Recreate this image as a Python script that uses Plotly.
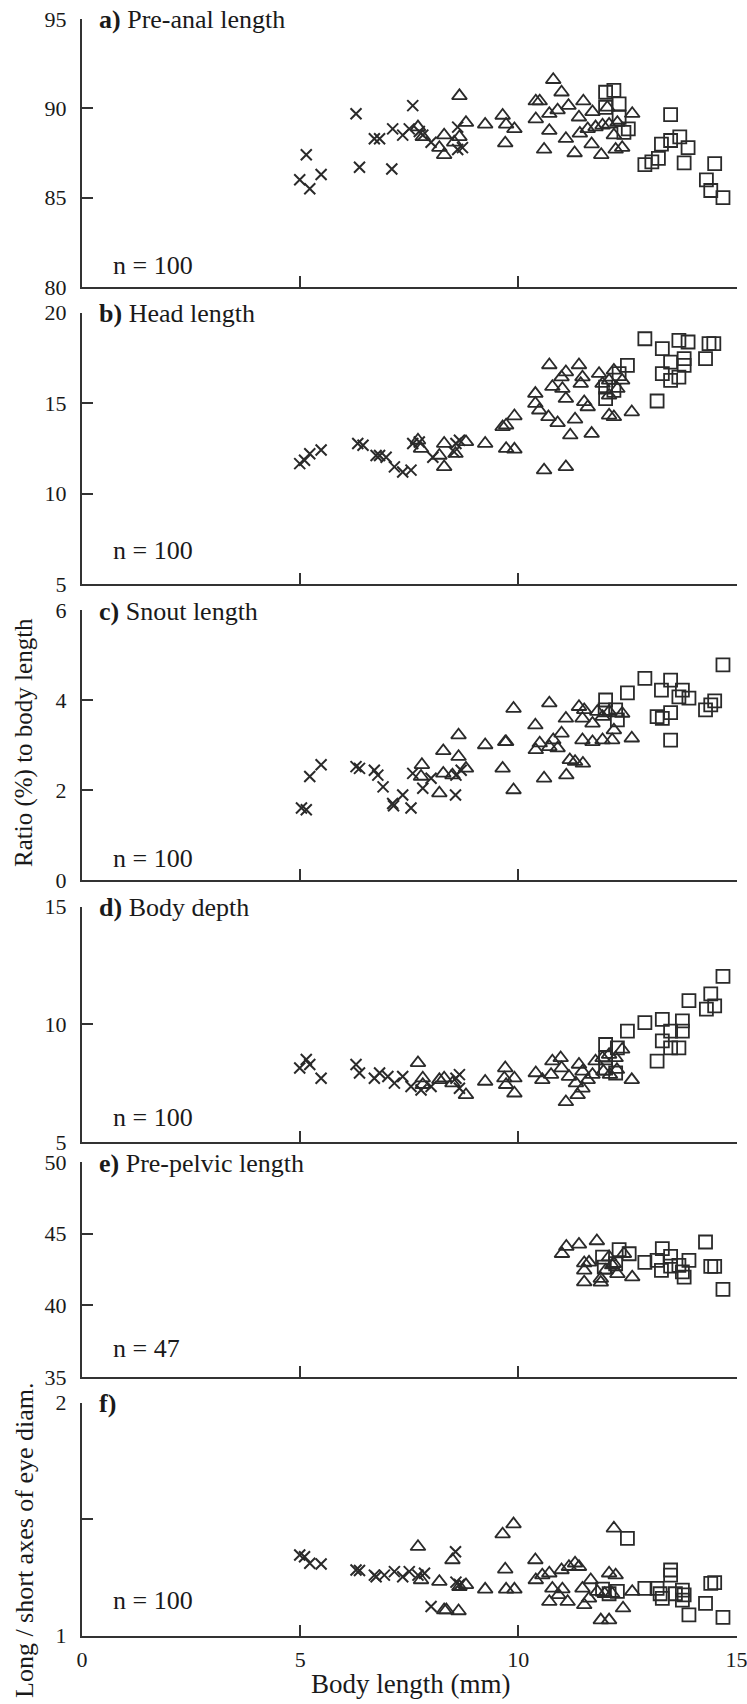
import plotly.graph_objects as go

# ---------------- data ----------------
# Panel a) Pre-anal length
a_x_x = [4.99, 5.14, 5.22, 5.48, 6.28, 6.36, 6.70, 6.82, 7.12, 7.35, 7.10, 7.58, 7.50, 7.73, 7.81, 8.00, 8.61, 8.61, 8.72]
a_x_y = [86.0, 87.4, 85.5, 86.3, 89.7, 86.7, 88.3, 88.3, 88.85, 88.5, 86.6, 90.15, 88.85, 88.7, 88.5, 88.1, 88.95, 87.7, 87.8]
a_t_x = [7.70, 7.81, 8.30, 8.19, 8.30, 8.53, 8.65, 8.80, 8.65, 9.24, 9.64, 9.72, 9.91, 9.70, 10.40, 10.49, 10.40, 10.71,
         10.71, 10.59, 10.80, 10.99, 10.90, 11.15, 11.09, 11.29, 11.49, 11.39, 11.41, 11.70, 11.68, 11.90, 12.04, 12.23,
         12.19, 12.61, 11.59, 11.77, 11.93, 12.08, 12.27, 12.38]
a_t_y = [88.95, 88.4, 88.5, 87.8, 87.4, 88.1, 90.7, 89.2, 88.4, 89.1, 89.6, 89.1, 88.85, 88.05, 90.4, 90.4, 89.4, 89.7,
         88.75, 87.7, 91.6, 90.9, 89.9, 90.15, 88.3, 87.5, 90.4, 89.5, 88.6, 89.8, 88.0, 87.4, 90.05, 87.7,
         88.5, 89.7, 88.85, 88.95, 89.05, 89.1, 89.2, 87.8]
a_s_x = [12.0, 12.19, 12.0, 12.31, 12.31, 12.52, 12.42, 13.49, 12.90, 13.21, 13.28, 13.49, 13.70, 13.89, 13.80, 14.50,
         14.31, 14.41, 14.69, 13.06]
a_s_y = [90.9, 91.0, 90.05, 90.25, 89.5, 88.85, 88.65, 89.65, 86.85, 87.2, 88.0, 88.2, 88.4, 87.8, 86.95, 86.9,
         86.0, 85.4, 85.0, 87.0]

# Panel b) Head length
b_x_x = [4.99, 5.10, 5.22, 5.48, 6.32, 6.44, 6.74, 6.82, 6.97, 7.16, 7.35, 7.54, 7.58, 7.73, 8.04, 8.57, 8.65, 8.53]
b_x_y = [11.65, 11.84, 12.2, 12.4, 12.76, 12.67, 12.1, 12.1, 12.0, 11.47, 11.19, 11.29, 12.76, 12.85, 12.0, 12.76, 12.94, 12.3]
b_t_x = [7.70, 7.77, 8.30, 8.19, 8.30, 8.56, 8.80, 9.24, 9.64, 9.72, 9.91, 9.72, 9.91, 10.39, 10.39, 10.48, 10.71, 10.78,
         10.69, 10.90, 10.59, 11.09, 10.99, 11.09, 11.09, 11.01, 11.19, 11.30, 11.39, 11.47, 11.43, 11.51, 11.59, 11.68,
         11.85, 11.93, 12.08, 12.19, 12.27, 12.08, 12.38, 12.08, 12.19, 12.60]
b_t_y = [12.94, 12.48, 12.76, 12.1, 11.47, 12.2, 12.85, 12.76, 13.68, 13.77, 14.28, 12.48, 12.44, 15.52, 14.97, 14.6, 17.1, 15.9,
         14.23, 13.9, 11.29, 11.47, 16.43, 16.71, 15.24, 15.79, 13.22, 14.1, 17.1, 16.43, 16.07, 15.06, 14.78, 13.31,
         16.62, 16.07, 16.25, 16.8, 15.79, 15.42, 16.25, 14.32, 14.23, 14.5]
b_s_x = [12.50, 12.0, 12.0, 12.19, 12.31, 12.90, 13.30, 13.68, 13.89, 14.37, 14.48, 13.49, 13.80, 13.80, 14.29, 13.30,
         13.49, 13.68, 13.18]
b_s_y = [17.08, 15.88, 15.24, 15.7, 16.62, 18.55, 18.0, 18.46, 18.37, 18.28, 18.28, 17.26, 17.45, 17.08, 17.45, 16.62,
         16.25, 16.43, 15.11]

# Panel c) Snout length
c_x_x = [5.03, 5.14, 5.22, 5.48, 6.28, 6.36, 6.70, 6.78, 6.90, 7.12, 7.14, 7.35, 7.54, 7.58, 7.81, 8.00, 8.56, 8.69, 8.57]
c_x_y = [1.60, 1.56, 2.30, 2.56, 2.52, 2.48, 2.44, 2.33, 2.07, 1.70, 1.65, 1.89, 1.60, 2.37, 2.04, 2.26, 1.89, 2.44, 2.33]
c_t_x = [7.79, 7.77, 8.28, 8.19, 8.28, 8.63, 8.63, 8.80, 8.49, 9.24, 9.70, 9.72, 9.64, 9.89, 9.89, 10.39, 10.40, 10.49,
         10.71, 10.59, 10.80, 10.71, 10.90, 10.99, 11.09, 11.10, 11.18, 11.30, 11.48, 11.39, 11.51, 11.47, 11.47, 11.70,
         11.81, 11.93, 12.08, 12.19, 12.38, 11.70, 11.93, 12.15, 12.60]
c_t_y = [2.56, 2.30, 2.87, 1.93, 2.37, 3.22, 2.74, 2.48, 2.33, 3.00, 3.07, 3.07, 2.48, 2.00, 3.81, 3.44, 2.89, 3.04,
         3.93, 2.26, 3.11, 2.96, 2.93, 3.26, 3.59, 2.33, 2.67, 2.63, 2.59, 3.85, 3.78, 3.59, 3.11, 3.48,
         3.74, 3.63, 3.74, 3.33, 3.70, 3.07, 3.11, 3.11, 3.15]
c_s_x = [12.0, 11.99, 12.23, 12.27, 12.50, 12.90, 13.49, 13.28, 13.76, 13.68, 13.91, 14.69, 14.50, 14.29, 14.41, 13.18,
         13.30, 13.49, 13.49]
c_s_y = [4.00, 3.78, 3.78, 3.56, 4.16, 4.48, 4.44, 4.22, 4.22, 4.07, 4.04, 4.78, 3.98, 3.78, 3.89, 3.63,
         3.59, 3.72, 3.11]

# Panel d) Body depth
d_x_x = [4.99, 5.14, 5.22, 5.48, 6.28, 6.36, 6.70, 6.82, 7.01, 7.16, 7.35, 7.54, 7.77, 8.00, 8.57, 8.65, 8.65]
d_x_y = [8.14, 8.50, 8.29, 7.71, 8.29, 7.93, 7.71, 7.93, 7.78, 7.50, 7.78, 7.36, 7.21, 7.36, 7.71, 7.86, 7.28]
d_t_x = [7.70, 7.81, 7.81, 8.19, 8.30, 8.49, 8.80, 9.24, 9.70, 9.68, 9.91, 9.72, 9.91, 10.40, 10.55, 10.78, 10.97,
         10.75, 10.99, 11.16, 11.09, 11.39, 11.47, 11.32, 11.47, 11.59, 11.70, 11.77, 11.93, 12.08, 12.23, 12.38,
         11.95, 12.10, 12.26, 12.60, 11.36]
d_t_y = [8.36, 7.71, 7.43, 7.64, 7.71, 7.50, 7.00, 7.57, 8.14, 7.71, 7.71, 7.43, 7.07, 7.93, 7.64, 8.43, 8.57,
         7.86, 8.14, 7.78, 6.70, 8.29, 8.00, 7.50, 7.28, 7.64, 7.86, 8.43, 8.57, 8.71, 8.57, 8.93,
         8.00, 7.86, 8.07, 7.64, 7.00]
d_s_x = [12.0, 12.27, 12.0, 12.0, 12.23, 12.50, 12.90, 13.30, 13.18, 13.30, 13.49, 13.49, 13.76, 13.76, 13.68, 13.91,
         14.41, 14.31, 14.50, 14.69]
d_s_y = [9.14, 9.00, 8.57, 8.14, 7.93, 9.71, 10.07, 10.21, 8.43, 9.29, 9.71, 9.00, 10.14, 9.71, 9.00, 11.00,
         11.29, 10.64, 10.78, 12.03]

# Panel e) Pre-pelvic length (n = 47, no crosses)
e_t_x = [11.00, 11.10, 11.39, 11.80, 11.51, 11.62, 11.51, 11.51, 11.89, 11.89, 12.08, 12.19, 12.42, 12.27, 12.61,
         12.00, 12.15]
e_t_y = [43.6, 44.1, 44.25, 44.49, 42.95, 43.0, 42.44, 41.62, 41.86, 41.6, 43.37, 42.9, 43.6, 42.2, 41.97,
         42.44, 42.8]
e_s_x = [12.31, 12.54, 11.93, 11.97, 12.23, 12.90, 13.30, 13.18, 13.28, 13.49, 13.49, 13.68, 13.76, 13.80, 13.91,
         14.29, 14.41, 14.50, 14.69]
e_s_y = [43.88, 43.6, 43.37, 42.67, 42.9, 43.0, 43.95, 43.14, 42.44, 43.42, 42.74, 42.79, 42.33, 41.97, 43.14,
         44.42, 42.72, 42.72, 41.11]

# Panel f) Long / short axes of eye diameter
f_x_x = [4.99, 5.10, 5.22, 5.48, 6.28, 6.36, 6.70, 6.74, 6.93, 7.16, 7.35, 7.50, 7.70, 7.85, 8.00, 8.56, 8.57, 8.65]
f_x_y = [1.346, 1.339, 1.311, 1.308, 1.282, 1.280, 1.260, 1.253, 1.260, 1.275, 1.253, 1.275, 1.260, 1.268, 1.125,
         1.360, 1.230, 1.220]
f_t_x = [7.70, 7.77, 8.19, 8.30, 8.35, 8.63, 8.49, 8.80, 8.65, 9.24, 9.64, 9.89, 9.70, 9.72, 9.91, 10.39, 10.40,
         10.55, 10.71, 10.78, 10.71, 10.99, 10.92, 11.13, 11.16, 11.30, 11.39, 11.01, 11.51, 11.47, 11.66, 11.89,
         12.08, 12.19, 12.08, 12.23, 11.81, 11.98, 12.15, 12.40, 12.61, 11.62]
f_t_y = [1.382, 1.239, 1.232, 1.110, 1.110, 1.106, 1.325, 1.218, 1.210, 1.199, 1.436, 1.479, 1.285, 1.199, 1.199, 1.325,
         1.239, 1.260, 1.268, 1.203, 1.146, 1.282, 1.175, 1.146, 1.296, 1.311, 1.296, 1.200, 1.132, 1.203, 1.239,
         1.067, 1.067, 1.461, 1.268, 1.260, 1.189, 1.180, 1.180, 1.118, 1.189, 1.160]
f_s_x = [12.50, 11.93, 12.08, 12.27, 12.90, 13.49, 13.49, 13.18, 13.25, 13.30, 13.76, 13.76, 13.80, 13.91, 14.29,
         14.41, 14.50, 14.69, 13.60]
f_s_y = [1.418, 1.200, 1.180, 1.190, 1.203, 1.282, 1.260, 1.203, 1.180, 1.160, 1.196, 1.153, 1.175, 1.089, 1.139,
         1.225, 1.228, 1.079, 1.180]

panel_titles = ["a)", "b)", "c)", "d)", "e)", "f)"]
panel_names = ["Pre-anal length", "Head length", "Snout length", "Body depth", "Pre-pelvic length", ""]
n_labels = ["n = 100", "n = 100", "n = 100", "n = 100", "n = 47", "n = 100"]
y_ranges = [[80, 95], [5, 20], [0, 6], [5, 15], [35, 50], [1, 2]]
y_tickvals = [[80, 85, 90, 95], [5, 10, 15, 20], [0, 2, 4, 6], [5, 10, 15], [35, 40, 45, 50], [1, 1.5, 2]]
y_ticktext = [["80", "85", "90", "95"], ["5", "10", "15", "20"], ["0", "2", "4", "6"], ["5", "10", "15"],
              ["35", "40", "45", "50"], ["1", "", "2"]]
x_tickvals = [0, 5, 10, 15]
x_ticktext = ["0", "5", "10", "15"]

# ---------------- layout geometry (pixels) ----------------
W, H = 747, 1704
X0, X1 = 82, 736.5
panel_px = [(19, 287), (312.5, 584), (610, 880), (906.5, 1142), (1162, 1377), (1402.7, 1635.7)]
n_px = [265, 550, 858, 1117, 1348, 1600]

FONT = "Liberation Serif, Times New Roman, serif"
INK = "#2a2a2a"
TXT = "#1a1a1a"

groups = [
    (a_x_x, a_x_y, a_t_x, a_t_y, a_s_x, a_s_y),
    (b_x_x, b_x_y, b_t_x, b_t_y, b_s_x, b_s_y),
    (c_x_x, c_x_y, c_t_x, c_t_y, c_s_x, c_s_y),
    (d_x_x, d_x_y, d_t_x, d_t_y, d_s_x, d_s_y),
    ([], [], e_t_x, e_t_y, e_s_x, e_s_y),
    (f_x_x, f_x_y, f_t_x, f_t_y, f_s_x, f_s_y),
]

fig = go.Figure()
layout = dict(
    width=W, height=H, margin=dict(l=0, r=0, t=0, b=0, autoexpand=False),
    paper_bgcolor="white", plot_bgcolor="white", showlegend=False,
    font=dict(family=FONT, color=TXT),
)
annotations = []

for i, (gx, gy, tx, ty, sx, sy) in enumerate(groups):
    k = "" if i == 0 else str(i + 1)
    xa, ya = "x" + k, "y" + k
    if gx:
        fig.add_trace(go.Scatter(x=gx, y=gy, mode="markers", xaxis=xa, yaxis=ya, cliponaxis=False,
                                 marker=dict(symbol="x-thin-open", size=11, color=INK,
                                             line=dict(width=2, color=INK))))
    fig.add_trace(go.Scatter(x=tx, y=ty, mode="markers", xaxis=xa, yaxis=ya, cliponaxis=False,
                             marker=dict(symbol="triangle-up-open", size=13, color=INK,
                                         line=dict(width=1.8, color=INK))))
    fig.add_trace(go.Scatter(x=sx, y=sy, mode="markers", xaxis=xa, yaxis=ya, cliponaxis=False,
                             marker=dict(symbol="square-open", size=13, color=INK,
                                         line=dict(width=1.8, color=INK))))
    top, bot = panel_px[i]
    last = (i == 5)
    layout["xaxis" + k] = dict(
        domain=[X0 / W, X1 / W], range=[0, 15], anchor=ya, automargin=False,
        showline=True, linewidth=2, linecolor="#333", ticks="inside", ticklen=11, tickwidth=2, tickcolor="#333",
        tickvals=x_tickvals, ticktext=x_ticktext, showticklabels=last, showgrid=False, zeroline=False,
        tickfont=dict(size=22, family=FONT, color=TXT), ticklabelstandoff=3, ticklabeloverflow="allow",
    )
    layout["yaxis" + k] = dict(
        domain=[1 - bot / H, 1 - top / H], range=y_ranges[i], anchor=xa, automargin=False,
        showline=True, linewidth=2, linecolor="#333", ticks="inside", ticklen=11, tickwidth=2, tickcolor="#333",
        tickvals=y_tickvals[i], ticktext=y_ticktext[i], showgrid=False, zeroline=False,
        tickfont=dict(size=22, family=FONT, color=TXT), ticklabelstandoff=9,
    )
    title = "<b>" + panel_titles[i] + "</b>" + (" " + panel_names[i] if panel_names[i] else "")
    annotations.append(dict(text=title, xref="paper", yref="paper", x=97 / W, y=1 - (top + 1) / H,
                            xanchor="left", yanchor="middle", showarrow=False,
                            font=dict(size=26, family=FONT, color=TXT)))
    annotations.append(dict(text=n_labels[i], xref="paper", yref="paper", x=111 / W, y=1 - n_px[i] / H,
                            xanchor="left", yanchor="middle", showarrow=False,
                            font=dict(size=26, family=FONT, color=TXT)))

annotations.append(dict(text="Ratio (%) to body length", xref="paper", yref="paper", x=24 / W, y=1 - 743 / H,
                        xanchor="center", yanchor="middle", textangle=-90, showarrow=False,
                        font=dict(size=25, family=FONT, color=TXT)))
annotations.append(dict(text="Long / short axes of eye diam.", xref="paper", yref="paper", x=24 / W,
                        y=1 - 1540 / H, xanchor="center", yanchor="middle", textangle=-90, showarrow=False,
                        font=dict(size=26, family=FONT, color=TXT)))
annotations.append(dict(text="Body length (mm)", xref="paper", yref="paper", x=410 / W, y=1 - 1684 / H,
                        xanchor="center", yanchor="middle", showarrow=False,
                        font=dict(size=27, family=FONT, color=TXT)))
layout["annotations"] = annotations
fig.update_layout(**layout)
fig.write_html("out.html")
